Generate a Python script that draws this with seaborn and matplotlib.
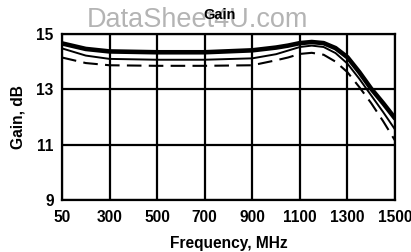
import numpy as np
import pandas as pd
import matplotlib
matplotlib.use("Agg")
import matplotlib.pyplot as plt
import seaborn as sns

# ---- data ----
tick_freqs = [50, 300, 500, 700, 900, 1100, 1300, 1500]
tick_labels = ["50", "300", "500", "700", "900", "1100", "1300", "1500"]
freq = [50, 175, 300, 500, 700, 900, 1000, 1050, 1100, 1150, 1200, 1250, 1300, 1350, 1400, 1450, 1500]
gain_thick = [14.66, 14.46, 14.37, 14.34, 14.34, 14.41, 14.51, 14.58, 14.67, 14.71, 14.67, 14.49, 14.16, 13.62, 13.02, 12.50, 11.95]
gain_thin = [14.48, 14.22, 14.10, 14.07, 14.07, 14.12, 14.27, 14.40, 14.53, 14.58, 14.53, 14.31, 13.93, 13.38, 12.78, 12.18, 11.55]
gain_dash = [14.15, 13.95, 13.87, 13.85, 13.85, 13.87, 14.05, 14.15, 14.28, 14.32, 14.25, 14.00, 13.62, 13.08, 12.50, 11.85, 11.15]
y_ticks = [9, 11, 13, 15]

sns.set_theme(style="white")
plt.rcParams['font.family'] = ['Liberation Sans', 'DejaVu Sans']

fig = plt.figure(figsize=(4.11, 2.52), dpi=100)
ax = fig.add_axes([62/411, 1-200/252, (395-62)/411, (200-34)/252])

pos = np.interp(freq, tick_freqs, np.arange(len(tick_freqs)))
df = pd.DataFrame({"pos": pos, "thick": gain_thick, "thin": gain_thin, "dash": gain_dash})

sns.lineplot(data=df, x="pos", y="thick", ax=ax, color="black", lw=3.3, zorder=5)
sns.lineplot(data=df, x="pos", y="thin", ax=ax, color="black", lw=1.4, zorder=5)
sns.lineplot(data=df, x="pos", y="dash", ax=ax, color="black", lw=1.5, zorder=5)
ax.lines[-1].set_dashes((7, 3.5))

ax.set_xlim(0, len(tick_freqs) - 1)
ax.set_ylim(9, 15)
ax.set_xticks(np.arange(len(tick_freqs)))
ax.set_xticklabels(tick_labels)
ax.set_yticks(y_ticks)
ax.grid(True, color="black", lw=1.6)
ax.set_axisbelow(True)
for s in ax.spines.values():
    s.set_color("black")
    s.set_linewidth(1.6)
ax.tick_params(length=0, labelsize=11.2, colors="black")
ax.tick_params(axis="x", pad=7)
ax.tick_params(axis="y", pad=6)
for t in ax.get_xticklabels() + ax.get_yticklabels():
    t.set_fontweight("bold")
ax.set_xlabel("Frequency, MHz", fontsize=11.2, fontweight="bold", color="black", labelpad=8)
ax.set_ylabel("Gain, dB", fontsize=11.2, fontweight="bold", color="black", labelpad=8)

fig.text(197/411, 1-20/252, "DataSheet4U.com", fontsize=19.5, color="#b4b4b4", ha="center", va="center")
fig.text(220/411, 1-15/252, "Gain", fontsize=10.5, fontweight="bold", color="black", ha="center", va="center")

fig.savefig("out.png", dpi=100)
